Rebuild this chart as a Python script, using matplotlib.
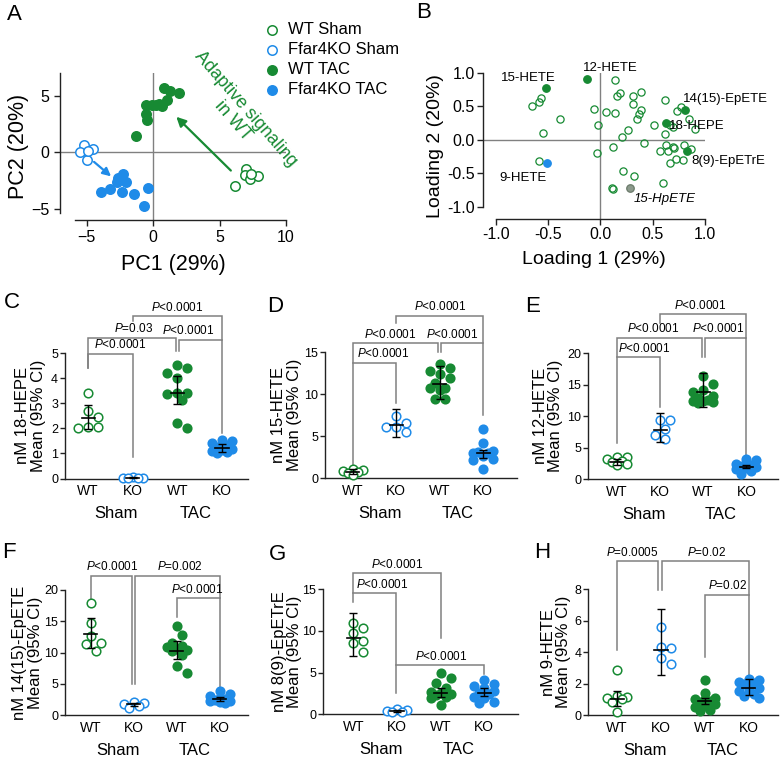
import matplotlib
matplotlib.use("Agg")
import matplotlib.pyplot as plt
import numpy as np
from matplotlib.lines import Line2D

plt.rcParams['font.family'] = ['Liberation Sans', 'DejaVu Sans']
plt.rcParams['mathtext.fontset'] = 'custom'
plt.rcParams['mathtext.it'] = 'Liberation Sans:italic'
plt.rcParams['mathtext.rm'] = 'Liberation Sans'

GREEN = '#178a33'
BLUE = '#1f8be8'
GRAY = '#808080'

# ---------------- panel A: PCA scores (PC1, PC2)
a_wt_sham = [(6.2, -3.0), (7.0, -1.5), (6.9, -2.0), (7.3, -2.4), (7.9, -2.1), (7.4, -1.9)]
a_ko_sham = [(-5.2, 0.6), (-5.5, 0.0), (-4.5, 0.3), (-5.0, -0.7), (-4.9, 0.1)]
a_wt_tac = [(0.8, 5.65), (1.95, 5.25), (1.3, 5.45), (1.05, 4.6), (0.45, 4.3), (-0.1, 4.2),
            (-0.5, 4.15), (-0.55, 3.4), (-0.45, 2.8), (-1.25, 1.45), (0.7, 4.1), (0.25, 4.2)]
a_ko_tac = [(-3.9, -3.55), (-3.25, -3.3), (-2.7, -2.6), (-2.25, -1.95), (-2.0, -2.6),
            (-2.35, -3.5), (-1.45, -3.7), (-0.35, -3.2), (-0.7, -4.75), (-2.6, -2.3)]

# ---------------- panel B: loadings
b_other = [(-0.65, 0.50), (-0.59, 0.57), (-0.57, 0.63), (-0.55, 0.11), (-0.39, 0.31), (-0.59, -0.31),
           (-0.06, 0.46), (-0.02, 0.22), (0.05, 0.42), (0.14, 0.90), (0.14, 0.41), (0.16, 0.66),
           (0.19, 0.70), (0.31, 0.65), (0.31, 0.54), (0.39, 0.71), (0.39, 0.45), (0.37, 0.39),
           (0.35, 0.32), (0.26, 0.15), (0.21, 0.04), (0.42, -0.04), (0.12, -0.10), (-0.03, -0.19),
           (0.22, -0.46), (0.32, -0.54), (0.11, -0.71), (0.12, -0.73), (0.51, 0.23), (0.62, 0.59),
           (0.62, 0.09), (0.57, -0.17), (0.63, -0.07), (0.65, -0.17), (0.69, -0.10), (0.70, -0.12),
           (0.67, -0.35), (0.72, -0.29), (0.79, -0.30), (0.80, -0.07), (0.87, -0.13), (0.90, 0.17),
           (0.85, 0.31), (0.73, 0.43), (0.77, 0.49), (0.69, 0.19), (0.67, 0.22), (0.60, -0.64)]
b_green_named = {'15-HETE': (-0.52, 0.77), '12-HETE': (-0.13, 0.91), '14(15)-EpETE': (0.81, 0.45),
                 '18-HEPE': (0.63, 0.25), '8(9)-EpETrE': (0.83, -0.17)}
b_blue_named = {'9-HETE': (-0.51, -0.35)}
b_gray_named = {'15-HpETE': (0.28, -0.71)}

# ---------------- panels C-H: groups WT Sham, KO Sham, WT TAC, KO TAC
groups = ['WT', 'KO', 'WT', 'KO']

c_vals = [[3.40, 2.68, 2.44, 2.07, 2.04, 2.01],
          [0.04, 0.03, 0.03, 0.02, 0.02],
          [4.53, 4.40, 4.21, 4.01, 3.40, 3.38, 3.40, 3.13, 2.20, 2.00],
          [1.52, 1.48, 1.40, 1.32, 1.25, 1.18, 1.12, 1.10, 1.05, 1.02]]
c_mean = [2.43, 0.03, 3.40, 1.22]
c_lo = [1.97, 0.02, 2.97, 1.05]
c_hi = [2.92, 0.04, 4.10, 1.36]

d_vals = [[1.1, 1.0, 0.9, 0.8, 0.6, 0.4],
          [7.46, 6.55, 6.15, 6.15, 5.56],
          [13.6, 13.1, 12.8, 12.4, 11.9, 11.3, 10.8, 10.7, 10.5, 9.4, 9.4],
          [5.9, 4.2, 3.3, 3.1, 3.0, 3.0, 2.6, 2.3, 2.2, 1.1]]
d_mean = [0.8, 6.37, 11.2, 2.97]
d_lo = [0.55, 4.96, 9.5, 2.4]
d_hi = [1.05, 8.25, 13.4, 3.4]

e_vals = [[3.6, 3.6, 3.3, 2.9, 2.7, 2.4, 2.2],
          [9.44, 9.44, 7.95, 7.04, 6.35],
          [16.4, 15.2, 14.1, 13.9, 13.3, 12.9, 12.6, 12.5, 12.4, 12.3, 12.1],
          [3.2, 3.0, 2.5, 2.3, 2.1, 2.0, 1.8, 1.6, 1.3, 0.8]]
e_mean = [2.8, 7.84, 13.9, 1.97]
e_lo = [2.3, 5.9, 11.5, 1.75]
e_hi = [3.3, 10.5, 16.8, 2.2]

f_vals = [[18.0, 14.8, 12.7, 11.5, 11.3, 10.3],
          [2.1, 2.0, 1.8, 1.5, 1.2],
          [14.2, 12.8, 11.5, 11.0, 10.9, 10.6, 10.4, 10.3, 9.6, 7.8, 6.7],
          [3.8, 3.4, 3.1, 2.8, 2.6, 2.4, 2.3, 2.2, 2.1, 2.0]]
f_mean = [12.9, 1.7, 10.3, 2.6]
f_lo = [10.7, 1.5, 9.0, 2.3]
f_hi = [15.5, 1.9, 11.9, 2.9]

g_vals = [[10.9, 10.4, 9.7, 8.8, 8.5, 7.5],
          [0.6, 0.5, 0.4, 0.3, 0.3],
          [4.9, 4.4, 3.8, 3.1, 2.7, 2.5, 2.4, 2.3, 2.1, 1.9, 1.1],
          [4.1, 3.6, 3.4, 3.2, 2.8, 2.6, 2.4, 2.1, 1.9, 1.5, 1.4]]
g_mean = [9.2, 0.4, 2.5, 2.6]
g_lo = [7.0, 0.3, 2.1, 2.2]
g_hi = [12.1, 0.55, 3.1, 3.1]

h_vals = [[2.85, 1.2, 1.15, 1.1, 1.0, 0.85, 0.2],
          [5.6, 4.3, 4.25, 3.65, 3.25],
          [2.2, 1.4, 1.1, 1.05, 1.0, 0.9, 0.8, 0.7, 0.6, 0.5, 0.3, 0.25],
          [2.3, 2.25, 2.1, 2.05, 2.0, 1.7, 1.6, 1.5, 1.35, 1.2, 1.1]]
h_mean = [1.05, 4.14, 0.9, 1.7]
h_lo = [0.55, 2.55, 0.7, 1.25]
h_hi = [1.5, 6.75, 1.1, 2.3]

# comparison brackets: (x1, x2, y_top, y_left_end, y_right_end, p text, label x)
c_brackets = [(0, 1, 4.97, 4.4, 0.87, '$P$<0.0001', 0.71),
              (0, 1.96, 5.6, 4.4, 5.07, '$P$=0.03', 1.01),
              (2.04, 3, 5.53, 5.07, 1.8, '$P$<0.0001', 2.25),
              (1, 3, 6.47, 6.27, 5.53, '$P$<0.0001', 1.99)]
d_brackets = [(0, 1, 13.77, 13.77, 8.93, '$P$<0.0001', 0.70),
              (0, 1.96, 16.07, 1.19, 15.08, '$P$<0.0001', 0.85),
              (2.04, 3, 16.07, 15.08, 7.54, '$P$<0.0001', 2.29),
              (1, 3, 19.37, 18.53, 16.07, '$P$<0.0001', 2.0)]
e_brackets = [(0, 1, 19.37, 19.37, 11.53, '$P$<0.0001', 0.62),
              (0, 1.96, 22.5, 5.71, 19.47, '$P$<0.0001', 0.85),
              (2.04, 3, 22.5, 19.47, 1.75, '$P$<0.0001', 2.35),
              (1, 3, 26.2, 24.8, 22.5, '$P$<0.0001', 1.92)]
f_brackets = [(0, 0.95, 22.3, 17.3, 4.9, '$P$<0.0001', 0.49),
              (1.02, 3, 22.3, 4.9, 18.7, '$P$=0.002', 2.07),
              (2, 3, 18.7, 15.7, 3.6, '$P$<0.0001', 2.47)]
g_brackets = [(0, 0.98, 14.5, 14.5, 2.5, '$P$<0.0001', 0.66),
              (0, 2, 16.9, 13.5, 9.1, '$P$<0.0001', 1.0),
              (0.98, 3, 5.9, 5.9, 4.8, '$P$<0.0001', 2.0)]
h_brackets = [(0, 0.94, 9.77, 4.14, 7.96, '$P$=0.0005', 0.33),
              (1.02, 3, 9.77, 7.96, 2.55, '$P$=0.02', 2.05),
              (2, 3, 7.64, 3.72, 7.64, '$P$=0.02', 2.53)]

W, H = 780, 759
fig = plt.figure(figsize=(W / 100, H / 100), dpi=100)


def px_axes(left, top, right, bottom):
    return fig.add_axes([left / W, 1 - bottom / H, (right - left) / W, (bottom - top) / H])


def style_spines(ax):
    ax.spines['top'].set_visible(False)
    ax.spines['right'].set_visible(False)
    for s in ('left', 'bottom'):
        ax.spines[s].set_linewidth(1.0)
        ax.spines[s].set_color('#222222')


# ================= A
axA = px_axes(60, 73, 286, 220)
axA.set_xlim(-7, 10)
axA.set_ylim(-6, 7)
style_spines(axA)
axA.spines['bottom'].set_bounds(-5.9, 10)
axA.spines['left'].set_bounds(-5.4, 7)
axA.axvline(0, color=GRAY, lw=1, zorder=0)
axA.axhline(0, color=GRAY, lw=1, zorder=0)
axA.set_xticks([-5, 0, 5, 10])
axA.set_yticks([-5, 0, 5])
axA.tick_params(labelsize=11.5, length=4, width=1, color='#222222')
axA.set_xlabel('PC1 (29%)', fontsize=15.5, labelpad=6)
axA.set_ylabel('PC2 (20%)', fontsize=15.5, labelpad=2)
for pts, col, filled in [(a_wt_sham, GREEN, False), (a_ko_sham, BLUE, False),
                         (a_wt_tac, GREEN, True), (a_ko_tac, BLUE, True)]:
    p = np.array(pts)
    axA.plot(p[:, 0], p[:, 1], 'o', ms=6.8, mec=col, mew=1.1,
             mfc=col if filled else 'white', clip_on=False, zorder=3)
axA.annotate('', xy=(1.6, 3.3), xytext=(6.0, -1.8),
             arrowprops=dict(arrowstyle='-|>', color=GREEN, lw=1.6, mutation_scale=14))
axA.annotate('', xy=(-3.0, -2.3), xytext=(-4.6, -0.7),
             arrowprops=dict(arrowstyle='-|>', color=BLUE, lw=1.6, mutation_scale=12))
axA.text(6.5, 3.3, 'Adaptive signaling\nin WT', color=GREEN, fontsize=13, rotation=-49,
         rotation_mode='anchor', ha='center', va='center', multialignment='center',
         linespacing=1.0, clip_on=False)

# legend
leg_items = [('WT Sham', GREEN, False), ('Ffar4KO Sham', BLUE, False),
             ('WT TAC', GREEN, True), ('Ffar4KO TAC', BLUE, True)]
for i, (lab, col, filled) in enumerate(leg_items):
    yy = 1 - (30 + 20 * i) / H
    fig.add_artist(Line2D([272 / W], [yy], transform=fig.transFigure, marker='o', ms=6.8,
                          mec=col, mew=1.1, mfc=col if filled else 'white', ls='none'))
    fig.text(288 / W, yy, lab, fontsize=12, va='center', ha='left')

# ================= B
axB = px_axes(483, 73, 705, 219)
axB.set_xlim(-1.123, 1.0)
axB.set_ylim(-1.18, 1.0)
style_spines(axB)
axB.spines['bottom'].set_bounds(-1, 1)
axB.spines['left'].set_bounds(-1, 1)
axB.axvline(0, color=GRAY, lw=1, zorder=0)
axB.axhline(0, color=GRAY, lw=1, zorder=0)
axB.set_xticks([-1, -0.5, 0, 0.5, 1])
axB.set_yticks([-1, -0.5, 0, 0.5, 1])
axB.set_xticklabels(['-1.0', '-0.5', '0.0', '0.5', '1.0'])
axB.set_yticklabels(['-1.0', '-0.5', '0.0', '0.5', '1.0'])
axB.tick_params(labelsize=11.5, length=4, width=1, color='#222222', pad=2)
axB.set_xlabel('Loading 1 (29%)', fontsize=14, labelpad=6)
axB.set_ylabel('Loading 2 (20%)', fontsize=14, labelpad=2)
p = np.array(b_other)
axB.plot(p[:, 0], p[:, 1], 'o', ms=5.2, mec=GREEN, mfc='none', mew=0.9, zorder=3)
for d, col, mec in [(b_green_named, GREEN, GREEN), (b_blue_named, BLUE, BLUE), (b_gray_named, '#8c9a8c', '#6a7a6a')]:
    for name, (x, y) in d.items():
        axB.plot(x, y, 'o', ms=5.4, mec=mec, mfc=col, mew=0.9, zorder=4)
lab_pos = {'15-HETE': (-0.69, 0.93, 'center'), '12-HETE': (0.09, 1.07, 'center'),
           '14(15)-EpETE': (0.79, 0.61, 'left'), '18-HEPE': (0.66, 0.21, 'left'),
           '8(9)-EpETrE': (0.87, -0.31, 'left'), '9-HETE': (-0.74, -0.57, 'center'),
           '15-HpETE': (0.61, -0.88, 'center')}
for name, (x, y, ha) in lab_pos.items():
    axB.text(x, y, name, fontsize=9.5, ha=ha, va='center', clip_on=False,
             style='italic' if name == '15-HpETE' else 'normal')


# ================= C-H
def swarm_offsets(vals, sx, sy, d=10.0, maxw=14.5):
    # simple beeswarm in pixel space, width limited to +-maxw pixels
    vals = np.asarray(vals, float)
    order = np.argsort(-vals)
    placed = []
    offs = np.zeros(len(vals))
    cands = [0.0]
    j = 1
    while 0.5 * j * d <= maxw:
        cands += [0.5 * j * d, -0.5 * j * d]
        j += 1
    for i in order:
        y = vals[i] * sy
        best, best_dist = 0.0, -1
        for c in cands:
            md = min([np.hypot(c - px, y - py) for px, py in placed] + [1e9])
            if md >= d * 0.98:
                best = c
                break
            if md > best_dist:
                best, best_dist = c, md
        placed.append((best, y))
        offs[i] = best / sx
    return offs


def dot_panel(box, xlim, ylim, yticks, vals, mean, lo, hi, brackets, ylabel, lab_gap):
    left, top, right, bottom = box
    ax = px_axes(left, top, right, bottom)
    ax.set_xlim(*xlim)
    ax.set_ylim(*ylim)
    style_spines(ax)
    sx = (right - left) / (xlim[1] - xlim[0])
    sy = (bottom - top) / (ylim[1] - ylim[0])
    styles = [(GREEN, False), (BLUE, False), (GREEN, True), (BLUE, True)]
    for k, (v, (col, filled)) in enumerate(zip(vals, styles)):
        off = swarm_offsets(v, sx, sy)
        ax.plot(k + off, v, 'o', ms=6.2, mec=col, mfc=col if filled else 'white',
                mew=1.1, ls='none', clip_on=False, zorder=3)
        ax.errorbar(k, mean[k], yerr=[[mean[k] - lo[k]], [hi[k] - mean[k]]], fmt='none',
                    ecolor='k', elinewidth=1.0, capsize=3.2, capthick=1.0, zorder=5)
        ax.plot([k - 0.15, k + 0.15], [mean[k], mean[k]], color='k', lw=1.2, zorder=5)
    for x1, x2, yt, yl, yr, txt, lx in brackets:
        ax.plot([x1, x1, x2, x2], [yl, yt, yt, yr], color=GRAY, lw=1.1, clip_on=False,
                solid_joinstyle='miter', zorder=2)
        ax.annotate(txt, (lx, yt), xytext=(0, 6.5), textcoords='offset points',
                    ha='center', va='center', fontsize=8.5, annotation_clip=False)
    ax.set_xticks(range(4))
    ax.set_xticklabels(groups)
    ax.set_yticks(yticks)
    ax.tick_params(axis='x', length=0, labelsize=10, pad=4)
    ax.tick_params(axis='y', length=3.5, width=1, labelsize=9, pad=1.5, color='#222222')
    for name, xc in [('Sham', 0.63), ('TAC', 2.41)]:
        ax.annotate(name, (xc, 0), xycoords=('data', 'axes fraction'), xytext=(0, -25.5),
                    textcoords='offset points', ha='center', va='center', fontsize=12,
                    annotation_clip=False)
    ax.set_ylabel(ylabel, fontsize=12, linespacing=1.05)
    ax.yaxis.set_label_coords(-lab_gap / (right - left), 0.5)
    return ax


dot_panel((65, 353, 248.3, 478.5), (-0.52, 3.59), (0, 5), [0, 1, 2, 3, 4, 5],
          c_vals, c_mean, c_lo, c_hi, c_brackets, 'nM 18-HEPE\nMean (95% CI)', 19)
dot_panel((325, 352.3, 517, 478.3), (-0.64, 3.78), (0, 15), [0, 5, 10, 15],
          d_vals, d_mean, d_lo, d_hi, d_brackets, 'nM 15-HETE\nMean (95% CI)', 23)
dot_panel((588.3, 353.3, 778, 479.3), (-0.66, 3.73), (0, 20), [0, 5, 10, 15, 20],
          e_vals, e_mean, e_lo, e_hi, e_brackets, 'nM 12-HETE\nMean (95% CI)', 25)
dot_panel((65, 590, 248.3, 715), (-0.6, 3.67), (0, 20), [0, 5, 10, 15, 20],
          f_vals, f_mean, f_lo, f_hi, f_brackets, 'nM 14(15)-EpETE\nMean (95% CI)', 22)
dot_panel((323.3, 589.3, 518.3, 714.3), (-0.69, 3.78), (0, 15), [0, 5, 10, 15],
          g_vals, g_mean, g_lo, g_hi, g_brackets, 'nM 8(9)-EpETrE\nMean (95% CI)', 21)
dot_panel((588.3, 589.3, 778.3, 715), (-0.66, 3.68), (0, 8), [0, 2, 4, 6, 8],
          h_vals, h_mean, h_lo, h_hi, h_brackets, 'nM 9-HETE\nMean (95% CI)', 17)

# panel letters
for letter, x, y in [('A', 14, 14), ('B', 424, 12), ('C', 12, 302), ('D', 275, 307),
                     ('E', 533, 306), ('F', 9, 553), ('G', 277, 555), ('H', 542, 553)]:
    fig.text(x / W, 1 - y / H, letter, fontsize=16, ha='center', va='center')

fig.savefig('out.png', dpi=100)
